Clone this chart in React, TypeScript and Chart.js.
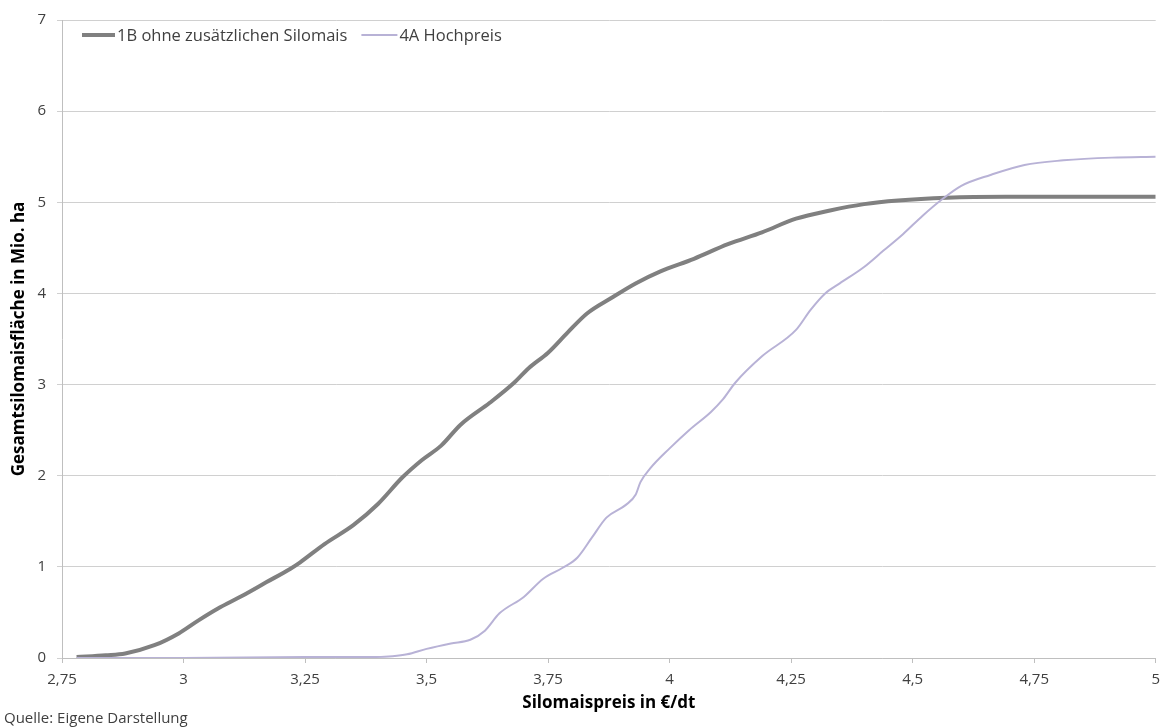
import React, { useEffect, useRef } from "react";
import { Chart, registerables } from "chart.js";

Chart.register(...registerables);

// ---- data ----
const seriesNames = ["1B ohne zusätzlichen Silomais", "4A Hochpreis"];

const priceB = [2.78, 2.84, 2.88, 2.94, 2.99, 3.03, 3.07, 3.12, 3.17, 3.22, 3.24, 3.29, 3.35, 3.4, 3.45, 3.49, 3.53, 3.57, 3.63, 3.68, 3.71, 3.75, 3.79, 3.83, 3.88, 3.93, 3.98, 4.05, 4.12, 4.19, 4.26, 4.33, 4.4, 4.47, 4.57, 4.69, 5.0];
const areaB = [0.01, 0.03, 0.05, 0.14, 0.27, 0.41, 0.54, 0.68, 0.83, 0.98, 1.05, 1.25, 1.46, 1.69, 1.98, 2.17, 2.33, 2.56, 2.8, 3.02, 3.18, 3.35, 3.57, 3.78, 3.95, 4.11, 4.24, 4.38, 4.54, 4.67, 4.82, 4.91, 4.98, 5.02, 5.05, 5.06, 5.06];

const priceA = [2.78, 3.0, 3.25, 3.38, 3.43, 3.46, 3.5, 3.55, 3.59, 3.62, 3.65, 3.7, 3.74, 3.78, 3.81, 3.84, 3.87, 3.91, 3.93, 3.94, 3.96, 4.0, 4.04, 4.085, 4.11, 4.135, 4.19, 4.26, 4.29, 4.32, 4.35, 4.4, 4.44, 4.48, 4.52, 4.56, 4.6, 4.66, 4.73, 4.81, 4.91, 5.0];
const areaA = [0, 0, 0.01, 0.01, 0.02, 0.04, 0.1, 0.16, 0.2, 0.3, 0.49, 0.67, 0.87, 0.99, 1.1, 1.32, 1.54, 1.68, 1.79, 1.93, 2.08, 2.3, 2.5, 2.7, 2.84, 3.02, 3.31, 3.6, 3.82, 4.0, 4.11, 4.29, 4.47, 4.65, 4.85, 5.03, 5.18, 5.3, 5.41, 5.46, 5.49, 5.5];

const xTickValues = [2.75, 3, 3.25, 3.5, 3.75, 4, 4.25, 4.5, 4.75, 5];
const yTickValues = [0, 1, 2, 3, 4, 5, 6, 7];

const xTitle = "Silomaispreis in €/dt";
const yTitle = "Gesamtsilomaisfläche in Mio. ha";
const sourceText = "Quelle: Eigene Darstellung";

// ---- styles ----
const FONT = "'Open Sans', sans-serif";
const colorB = "#808080";
const colorA = "#b8b2d6";
const textColor = "#404040";

export default function App() {
  const ref = useRef<HTMLCanvasElement | null>(null);

  useEffect(() => {
    if (!ref.current) return;

    const overlayPlugin = {
      id: "overlayTexts",
      afterDraw(chart: any) {
        const ctx = chart.ctx as CanvasRenderingContext2D;
        ctx.save();
        // legend inside plot area
        ctx.font = `16.5px ${FONT}`;
        ctx.textBaseline = "middle";
        ctx.textAlign = "left";
        const y = 35;
        let x = 82;
        const items = [
          { name: seriesNames[0], color: colorB, width: 4, len: 33 },
          { name: seriesNames[1], color: colorA, width: 2, len: 36 },
        ];
        items.forEach((it) => {
          ctx.strokeStyle = it.color;
          ctx.lineWidth = it.width;
          ctx.lineCap = "butt";
          ctx.beginPath();
          ctx.moveTo(x, y);
          ctx.lineTo(x + it.len, y);
          ctx.stroke();
          x += it.len + 2;
          ctx.fillStyle = textColor;
          ctx.fillText(it.name, x, y + 1);
          x += ctx.measureText(it.name).width + 14;
        });
        // source note
        ctx.font = `15px ${FONT}`;
        ctx.fillStyle = textColor;
        ctx.textBaseline = "middle";
        ctx.fillText(sourceText, 4, 719);
        ctx.restore();
      },
    };

    const chart = new Chart(ref.current, {
      type: "line",
      data: {
        datasets: [
          {
            label: seriesNames[0],
            data: priceB.map((p, i) => ({ x: p, y: areaB[i] })),
            borderColor: colorB,
            backgroundColor: colorB,
            borderWidth: 4,
            pointRadius: 0,
            cubicInterpolationMode: "monotone",
            order: 1,
          },
          {
            label: seriesNames[1],
            data: priceA.map((p, i) => ({ x: p, y: areaA[i] })),
            borderColor: colorA,
            backgroundColor: colorA,
            borderWidth: 2,
            pointRadius: 0,
            cubicInterpolationMode: "monotone",
            order: 0,
          },
        ],
      },
      options: {
        animation: false,
        responsive: true,
        maintainAspectRatio: false,
        layout: { padding: { top: 14, right: 8, left: 0, bottom: 0 } },
        plugins: {
          legend: { display: false },
          tooltip: { enabled: false },
        },
        scales: {
          x: {
            type: "linear",
            min: 2.75,
            max: 5,
            afterBuildTicks: (scale: any) => {
              scale.ticks = xTickValues.map((v) => ({ value: v }));
            },
            afterFit: (scale: any) => {
              scale.height = 69;
            },
            grid: {
              drawOnChartArea: false,
              drawTicks: true,
              tickLength: 5,
              color: "#bfbfbf",
            },
            border: { display: true, color: "#bfbfbf", width: 1 },
            ticks: {
              autoSkip: false,
              maxRotation: 0,
              padding: 8,
              color: textColor,
              font: { family: FONT, size: 15 },
              callback: (v: any) => String(v).replace(".", ","),
            },
            title: {
              display: true,
              text: xTitle,
              color: "#000000",
              font: { family: FONT, size: 17, weight: "bold" },
              padding: { top: 0, bottom: 14 },
            },
          },
          y: {
            type: "linear",
            min: 0,
            max: 7,
            afterBuildTicks: (scale: any) => {
              scale.ticks = yTickValues.map((v) => ({ value: v }));
            },
            afterFit: (scale: any) => {
              scale.width = 62;
            },
            grid: {
              drawTicks: true,
              tickLength: 5,
              color: "#d0d0d0",
            },
            border: { display: true, color: "#bfbfbf", width: 1 },
            ticks: {
              padding: 11,
              color: textColor,
              font: { family: FONT, size: 15 },
            },
            title: {
              display: true,
              text: yTitle,
              color: "#000000",
              font: { family: FONT, size: 17, weight: "bold" },
              padding: { top: 9, bottom: 0 },
            },
          },
        },
      },
      plugins: [overlayPlugin],
    } as any);

    return () => chart.destroy();
  }, []);

  return (
    <div style={{ position: "absolute", left: 0, top: 0, width: 1168, height: 727, background: "#ffffff" }}>
      <canvas ref={ref} />
    </div>
  );
}
